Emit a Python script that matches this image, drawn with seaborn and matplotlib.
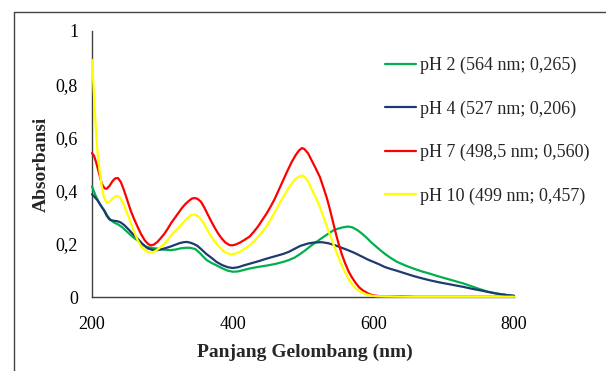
import matplotlib
matplotlib.use("Agg")
import matplotlib.pyplot as plt
from matplotlib.lines import Line2D
from matplotlib.ticker import FuncFormatter, MultipleLocator
import numpy as np
import pandas as pd
import seaborn as sns

# Absorption spectra at different pH (wavelength in nm, absorbance)
nm_ph2 = [200, 203, 206, 210, 214, 218, 222, 227, 232, 237, 243, 250, 257, 265, 271, 277,
          285, 293, 302, 312, 320, 326, 333, 340, 347, 353, 358, 363, 370, 377, 385, 393,
          400, 407, 415, 424, 436, 448, 460, 472, 480, 488, 495, 503, 512, 519, 527, 536,
          543, 550, 557, 564, 570, 577, 583, 590, 596, 602, 609, 616, 624, 633, 645, 657,
          668, 680, 692, 704, 716, 728, 740, 752, 763, 775, 788, 800]
abs_ph2 = [0.416, 0.395, 0.376, 0.355, 0.338, 0.324, 0.305, 0.288, 0.279, 0.273, 0.262, 0.245,
           0.228, 0.212, 0.199, 0.189, 0.184, 0.182, 0.178, 0.176, 0.179, 0.183, 0.185, 0.185,
           0.180, 0.166, 0.152, 0.139, 0.128, 0.119, 0.108, 0.099, 0.095, 0.096, 0.101, 0.107,
           0.113, 0.118, 0.124, 0.132, 0.139, 0.148, 0.160, 0.175, 0.194, 0.207, 0.222, 0.238,
           0.250, 0.257, 0.262, 0.265, 0.262, 0.252, 0.240, 0.224, 0.208, 0.194, 0.178, 0.163,
           0.148, 0.133, 0.119, 0.107, 0.097, 0.088, 0.078, 0.069, 0.060, 0.051, 0.040, 0.029,
           0.020, 0.013, 0.008, 0.005]

nm_ph4 = [200, 204, 208, 212, 217, 221, 225, 230, 236, 241, 246, 252, 258, 265, 272, 279,
          286, 293, 300, 306, 312, 318, 324, 330, 335, 340, 345, 350, 356, 362, 370, 377,
          385, 393, 400, 408, 416, 424, 436, 448, 460, 472, 480, 488, 496, 507, 516, 527,
          536, 545, 554, 564, 573, 583, 592, 602, 609, 616, 624, 633, 645, 657, 668, 680,
          692, 704, 716, 728, 740, 752, 763, 775, 788, 800]
abs_ph4 = [0.386, 0.375, 0.363, 0.346, 0.326, 0.305, 0.291, 0.287, 0.285, 0.280, 0.270, 0.254,
           0.237, 0.219, 0.199, 0.183, 0.177, 0.176, 0.180, 0.185, 0.190, 0.196, 0.202, 0.206,
           0.207, 0.204, 0.199, 0.192, 0.178, 0.163, 0.147, 0.132, 0.120, 0.112, 0.109, 0.112,
           0.119, 0.125, 0.134, 0.144, 0.153, 0.162, 0.170, 0.181, 0.192, 0.201, 0.205, 0.206,
           0.202, 0.195, 0.186, 0.176, 0.166, 0.153, 0.141, 0.130, 0.122, 0.113, 0.106, 0.099,
           0.089, 0.079, 0.071, 0.063, 0.056, 0.050, 0.044, 0.038, 0.031, 0.025, 0.019, 0.013,
           0.008, 0.004]

nm_ph7 = [200, 203, 206, 210, 214, 218, 221, 225, 229, 233, 237, 241, 245, 250, 255, 260,
          265, 270, 275, 280, 284, 288, 293, 298, 303, 308, 313, 318, 322, 328, 333, 338,
          342, 346, 350, 355, 360, 365, 370, 375, 380, 385, 390, 395, 399, 404, 410, 417,
          424, 430, 436, 442, 448, 454, 460, 466, 472, 478, 484, 490, 494, 498.5, 502, 507,
          512, 518, 524, 529, 534, 538, 542, 546, 550, 555, 560, 565, 570, 575, 580, 585,
          590, 595, 600, 610, 620, 640, 660, 700, 750, 800]
abs_ph7 = [0.541, 0.530, 0.505, 0.465, 0.425, 0.408, 0.407, 0.418, 0.435, 0.446, 0.447, 0.432,
           0.405, 0.365, 0.325, 0.292, 0.263, 0.235, 0.213, 0.199, 0.194, 0.197, 0.207, 0.222,
           0.238, 0.258, 0.280, 0.298, 0.313, 0.335, 0.350, 0.362, 0.370, 0.372, 0.369, 0.358,
           0.335, 0.308, 0.282, 0.258, 0.236, 0.218, 0.204, 0.196, 0.194, 0.197, 0.204, 0.215,
           0.227, 0.245, 0.265, 0.289, 0.313, 0.340, 0.370, 0.405, 0.440, 0.475, 0.508, 0.535,
           0.550, 0.560, 0.556, 0.541, 0.515, 0.484, 0.451, 0.412, 0.371, 0.332, 0.289, 0.246,
           0.206, 0.162, 0.126, 0.095, 0.072, 0.052, 0.036, 0.025, 0.017, 0.010, 0.006, 0.003,
           0.002, 0.003, 0.001, 0.001, 0.001, 0.001]

nm_ph10 = [200, 202, 204, 206, 208, 211, 214, 217, 221, 225, 229, 233, 237, 241, 245, 250,
           255, 260, 265, 270, 275, 280, 284, 288, 293, 298, 303, 308, 313, 318, 322, 328,
           333, 338, 342, 346, 350, 355, 360, 367, 374, 381, 387, 393, 398, 404, 410, 417,
           424, 430, 436, 442, 448, 454, 460, 466, 472, 478, 484, 490, 494, 499, 502, 507,
           512, 518, 524, 529, 533, 538, 543, 548, 552, 557, 562, 566, 571, 577, 583, 590,
           597, 605, 620, 650, 700, 750, 800]
abs_ph10 = [0.892, 0.800, 0.700, 0.610, 0.539, 0.470, 0.415, 0.375, 0.353, 0.358, 0.370, 0.378,
            0.380, 0.370, 0.348, 0.315, 0.280, 0.245, 0.213, 0.190, 0.176, 0.169, 0.167, 0.170,
            0.178, 0.189, 0.200, 0.216, 0.232, 0.247, 0.257, 0.275, 0.290, 0.302, 0.309, 0.310,
            0.305, 0.293, 0.272, 0.238, 0.210, 0.188, 0.173, 0.164, 0.160, 0.163, 0.170, 0.181,
            0.194, 0.208, 0.226, 0.244, 0.265, 0.292, 0.320, 0.348, 0.376, 0.403, 0.427, 0.445,
            0.452, 0.457, 0.452, 0.436, 0.407, 0.375, 0.338, 0.302, 0.272, 0.236, 0.200, 0.166,
            0.138, 0.108, 0.082, 0.062, 0.044, 0.028, 0.018, 0.010, 0.005, 0.003, 0.002, 0.001,
            0.001, 0.001, 0.001]

labels = ["pH 2 (564 nm; 0,265)", "pH 4 (527 nm; 0,206)",
          "pH 7 (498,5 nm; 0,560)", "pH 10 (499 nm; 0,457)"]
colors = ["#00B050", "#1F3A6E", "#FF0000", "#FFFF00"]
x_ticks = [200, 400, 600, 800]

series = [(nm_ph2, abs_ph2), (nm_ph4, abs_ph4), (nm_ph7, abs_ph7), (nm_ph10, abs_ph10)]
df = pd.concat(
    [pd.DataFrame({"nm": x, "abs": y, "label": lab}) for (x, y), lab in zip(series, labels)],
    ignore_index=True,
)

sns.set_style("white")
plt.rcParams["font.family"] = ["Liberation Serif", "DejaVu Serif"]

W, H = 606, 371
fig = plt.figure(figsize=(W / 100, H / 100), dpi=100)
ax = fig.add_axes([92 / W, 1 - 297 / H, (514 - 92) / W, (297 - 31) / H])

sns.lineplot(data=df, x="nm", y="abs", hue="label", hue_order=labels,
             palette=dict(zip(labels, colors)), estimator=None, sort=False,
             linewidth=1.6, ax=ax, legend=False)
# spectra are drawn above the axis lines so the steep start stays visible
for ln in ax.lines:
    ln.set_clip_on(False)
    ln.set_zorder(3)

ax.set_xlim(200, 800)
ax.set_ylim(0, 1)
ax.set_xticks(x_ticks)
ax.yaxis.set_major_locator(MultipleLocator(0.2))
ax.yaxis.set_major_formatter(FuncFormatter(
    lambda v, p: "0" if abs(v) < 1e-9 else ("1" if abs(v - 1) < 1e-9 else f"{v:.1f}".replace(".", ","))))

spine_col = "#404040"
for side in ["top", "right"]:
    ax.spines[side].set_visible(False)
for side in ["left", "bottom"]:
    ax.spines[side].set_color(spine_col)
    ax.spines[side].set_linewidth(1.0)

ax.tick_params(axis="both", which="major", direction="out", length=5, width=1.0,
               color=spine_col, labelsize=13, labelcolor="black")
ax.tick_params(axis="y", pad=5)
ax.tick_params(axis="x", pad=9)
ax.set_xlabel("")
ax.set_ylabel("")

fig.text(41 / W, 1 - 164 / H, "Absorbansi", rotation=90, ha="center", va="center",
         fontsize=14, fontweight="bold")
fig.text(305 / W, 1 - 352 / H, "Panjang Gelombang (nm)", ha="center", va="center",
         fontsize=14, fontweight="bold")

handles = [Line2D([], [], color=c, lw=1.6) for c in colors]
fig.legend(handles, labels, loc="upper left", bbox_to_anchor=(385 / W, 1 - 57 / H),
           frameon=False, fontsize=13, handlelength=1.72, handletextpad=0.2,
           labelspacing=1.45, borderpad=0, borderaxespad=0)

# outer frame
fig.add_artist(Line2D([14 / W, 14 / W], [0, 1 - 12 / H], color="#444444", lw=1.0,
                      transform=fig.transFigure))
fig.add_artist(Line2D([14 / W, 1], [1 - 12 / H, 1 - 12 / H], color="#444444", lw=1.0,
                      transform=fig.transFigure))

fig.savefig("out.png", dpi=100)
